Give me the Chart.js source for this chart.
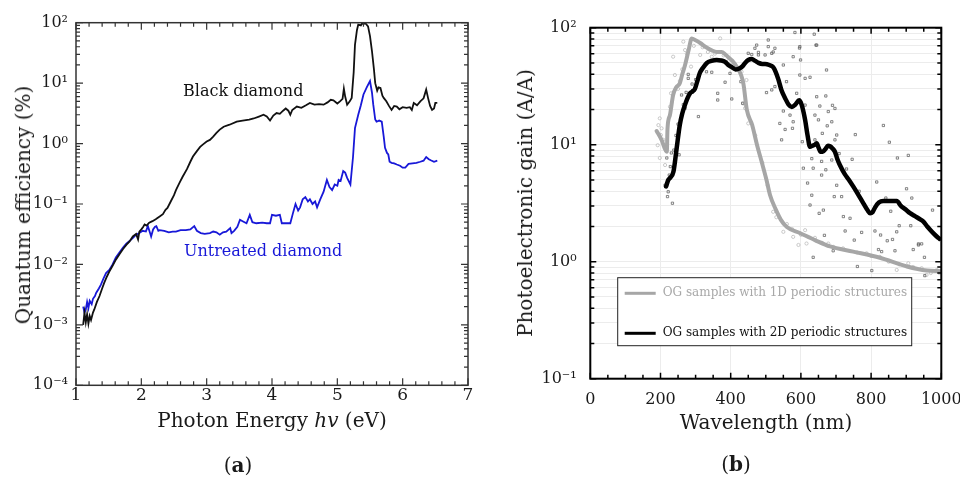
<!DOCTYPE html>
<html>
<head>
<meta charset="utf-8">
<script src="https://cdn.jsdelivr.net/npm/chart.js@4.4.0/dist/chart.umd.min.js"></script>
<style>
html,body{margin:0;padding:0;background:#fff;}
#fig{position:relative;width:960px;height:477px;overflow:hidden;font-family:"DejaVu Serif",serif;color:#1a1a1a;}
#fig canvas{position:absolute;top:0;}
.lbl{position:absolute;white-space:nowrap;font-size:20px;line-height:20px;}
.note{position:absolute;white-space:nowrap;font-size:16px;line-height:16px;}
.ctr{transform:translateX(-50%);}
.rot{transform:translate(-50%,-50%) rotate(-90deg);}
</style>
</head>
<body>
<div id="fig">
  <canvas id="qe" width="480" height="477" style="left:0"></canvas>
  <canvas id="gain" width="480" height="477" style="left:480px"></canvas>

  <div class="note" style="left:183px;top:83px;color:#111">Black diamond</div>
  <div class="note" style="left:184px;top:243px;color:#1818d8">Untreated diamond</div>

  <div class="lbl ctr" style="left:272px;top:410px">Photon Energy <i>hv</i> (eV)</div>
  <div class="lbl rot" style="left:23px;top:205px">Quantum efficiency (%)</div>
  <div class="lbl ctr" style="left:238px;top:455px">(<b>a</b>)</div>

  <div class="lbl ctr" style="left:766px;top:412px">Wavelength (nm)</div>
  <div class="lbl rot" style="left:525px;top:203px">Photoelectronic gain (A/A)</div>
  <div class="lbl ctr" style="left:736px;top:454px">(<b>b</b>)</div>
</div>

<script>
// ---- (a) quantum efficiency vs photon energy ----
const energyBlack = [
  1.11,1.13,1.15,1.17,1.19,1.21,1.23,1.26,1.28,1.32,
  1.36,1.40,1.43,1.47,1.51,1.56,1.61,1.67,1.72,1.77,
  1.82,1.87,1.92,1.95,1.97,2.00,2.03,2.05,2.08,2.12,
  2.17,2.22,2.28,2.33,2.37,2.40,2.45,2.50,2.53,2.58,
  2.63,2.70,2.75,2.79,2.85,2.90,2.94,3.00,3.05,3.10,
  3.15,3.20,3.26,3.35,3.46,3.55,3.65,3.72,3.80,3.87,
  3.92,3.97,4.02,4.07,4.12,4.17,4.21,4.25,4.28,4.31,
  4.38,4.45,4.52,4.58,4.65,4.72,4.79,4.85,4.90,4.94,
  5.00,5.04,5.08,5.10,5.12,5.15,5.19,5.22,5.25,5.27,
  5.30,5.32,5.36,5.38,5.40,5.43,5.47,5.50,5.53,5.56,
  5.58,5.61,5.63,5.66,5.69,5.71,5.75,5.79,5.83,5.87,
  5.91,5.95,6.00,6.06,6.11,6.14,6.17,6.22,6.27,6.32,
  6.36,6.39,6.42,6.45,6.48,6.50,6.53
];
const qeBlack = [
  0.0010,0.0016,0.0011,0.0015,0.00105,0.0014,0.0012,0.0016,0.0018,0.0024,
  0.0030,0.0040,0.0049,0.0062,0.0076,0.0095,0.012,0.015,0.018,0.021,
  0.024,0.029,0.032,0.026,0.035,0.038,0.042,0.046,0.044,0.049,
  0.052,0.056,0.062,0.068,0.080,0.086,0.11,0.14,0.17,0.22,
  0.28,0.38,0.50,0.61,0.75,0.88,0.96,1.08,1.15,1.3,
  1.5,1.7,1.9,2.05,2.3,2.4,2.5,2.6,2.8,3.0,
  2.8,2.4,2.9,3.2,3.1,3.5,3.8,3.5,3.0,3.6,
  4.1,3.9,4.3,4.7,4.4,4.5,4.4,4.8,5.3,5.2,
  4.6,5.0,5.5,8.1,6.0,4.4,5.0,5.7,15,43,
  75,93,90,98,95,98,87,60,34,17,
  10,7.5,8.5,8.3,6.2,5.7,5.0,4.2,3.6,4.2,
  4.1,3.7,4.0,3.9,4.0,3.6,4.7,4.3,5.0,5.6,
  7.8,5.6,4.2,3.6,3.8,4.7,4.7
];
const energyBlue = [
  1.11,1.13,1.15,1.17,1.19,1.21,1.24,1.26,1.29,1.31,
  1.35,1.38,1.42,1.46,1.51,1.56,1.61,1.67,1.72,1.77,
  1.83,1.88,1.92,1.97,2.02,2.07,2.10,2.13,2.15,2.18,
  2.21,2.23,2.26,2.28,2.35,2.42,2.48,2.53,2.60,2.68,
  2.75,2.81,2.85,2.91,2.97,3.05,3.10,3.15,3.20,3.25,
  3.30,3.36,3.38,3.42,3.47,3.51,3.55,3.61,3.66,3.70,
  3.76,3.85,3.92,3.97,4.00,4.06,4.12,4.15,4.22,4.28,
  4.32,4.36,4.40,4.43,4.47,4.51,4.55,4.58,4.62,4.66,
  4.69,4.74,4.79,4.84,4.88,4.92,4.96,5.00,5.02,5.05,
  5.09,5.12,5.15,5.20,5.24,5.27,5.32,5.36,5.40,5.45,
  5.50,5.53,5.55,5.58,5.60,5.64,5.68,5.71,5.73,5.76,
  5.78,5.80,5.83,5.87,5.91,5.96,6.00,6.04,6.09,6.15,
  6.21,6.27,6.32,6.36,6.40,6.43,6.48,6.53
];
const qeBlue = [
  0.0020,0.0016,0.0018,0.0024,0.0019,0.0025,0.0022,0.0027,0.0030,0.0034,
  0.0040,0.0046,0.0058,0.0072,0.0081,0.010,0.013,0.016,0.019,0.022,
  0.025,0.028,0.031,0.033,0.036,0.035,0.043,0.034,0.029,0.038,
  0.042,0.043,0.036,0.037,0.036,0.034,0.035,0.035,0.037,0.037,
  0.038,0.043,0.036,0.033,0.032,0.033,0.035,0.034,0.031,0.034,
  0.035,0.040,0.033,0.036,0.042,0.055,0.052,0.048,0.066,0.050,
  0.048,0.049,0.048,0.048,0.066,0.064,0.066,0.048,0.048,0.048,
  0.070,0.100,0.078,0.088,0.12,0.13,0.11,0.12,0.10,0.11,
  0.088,0.12,0.16,0.25,0.19,0.17,0.21,0.20,0.25,0.24,
  0.35,0.33,0.27,0.21,0.6,1.8,3.0,4.3,6.5,8.5,
  10.8,7.0,4.4,2.5,2.3,2.4,2.3,1.3,0.85,0.70,
  0.66,0.50,0.48,0.47,0.45,0.43,0.40,0.40,0.46,0.47,
  0.48,0.50,0.52,0.60,0.55,0.53,0.50,0.52
];

// ---- (b) photoelectronic gain vs wavelength ----
const wl1D = [
  189,203,218,220,227,236,245,255,262,270,
  280,289,300,313,330,346,360,374,385,393,
  405,417,436,446,461,475,489,502,512,529,
  543,560,597,640,683,749,825,902,959,999
];
const gain1D = [
  13.1,11,8.7,13.8,18,26.6,31,33.5,40,48,
  64,81,78,74,68,64,62,62,59,56,
  52,46.5,33.5,19.8,14.8,9.95,7.0,5.0,3.72,2.77,
  2.28,1.98,1.76,1.53,1.35,1.22,1.08,0.91,0.84,0.83
];
const wl2D = [
  216,222,227,237,246,255,262,270,277,284,
  291,298,305,312,320,332,345,360,372,384,
  393,403,414,426,434,441,450,460,470,479,
  490,498,510,521,528,536,545,555,565,574,
  584,595,602,612,619,626,633,640,645,650,
  656,662,670,677,683,690,697,704,711,725,
  737,749,762,778,790,797,804,811,822,835,
  850,862,873,885,898,911,925,940,949,960,
  970,980,991,995
];
const gain2D = [
  4.4,5.0,5.2,5.9,9.3,14.8,18.5,22,25,27.5,
  28.5,30,35,41,45,50,52,53,52.5,51,
  48,46,44,45,47,50,53,54,52,50,
  49,49,48,46,42,36,29,25,22,21,
  22,24,22,16.3,12,9.6,9.8,10,10.3,9.5,
  8.7,8.7,9.2,9.8,9.7,9.3,8.7,7.5,6.7,5.6,
  5.0,4.4,3.8,3.15,2.75,2.6,2.65,2.9,3.2,3.3,
  3.3,3.3,3.3,3.0,2.8,2.6,2.45,2.3,2.2,2.0,
  1.85,1.72,1.6,1.57
];
// individual measurements behind the averaged curves
const pts1DWl = [
  236,241,230,227,198,194,192,203,208,270,
  287,313,346,370,265,403,431,441,201,213,
  198,521,550,578,593,612,616,678,692,787,
  825,873,906,944,958,987,445,436,450,250,
  255,262,275,295,320,335,355,380,395,415,
  470,490,505,530,560,575,600,640,660,720,
  760,800,850,880,920,970,995
];
const pts1DGain = [
  56.5,39.4,27.5,21.1,16.8,14.7,9.9,13.8,11,64.4,
  46.5,58.5,56.5,81,76,48,42,20.5,12.1,6.7,
  7.7,2.67,1.80,1.63,1.39,1.86,1.43,1.43,1.34,1.18,
  1.10,0.85,0.97,0.88,0.77,0.85,35.7,22.5,15.2,30,
  35,44,60,70,68,62,60,58,52,44,
  12,7,4.5,2.4,2.1,1.9,1.7,1.6,1.45,1.3,
  1.2,1.12,1.0,0.95,0.9,0.8,0.8
];
const pts2DWl = [
  469,507,526,597,645,479,498,517,578,550,
  599,597,612,626,673,559,502,517,526,588,
  612,671,690,654,678,550,569,540,578,555,
  576,640,650,688,661,675,702,545,604,640,
  697,755,835,852,875,906,631,659,688,709,
  746,730,607,635,671,659,702,619,816,901,
  766,916,842,856,695,716,631,626,664,652,
  721,740,880,913,975,726,773,811,827,873,
  667,752,846,861,935,944,821,830,920,868,
  952,761,802,692,635,583,638,643,596,474,
  507,521,645,697,218,213,222,220,234,253,
  260,270,260,279,279,308,363,363,403,434,
  384,429,331,346,398,450,460,479,225,228,
  231,238,244,250,265,273,290,300,935,953
];
const pts2DGain = [
  66.7,68.9,66.7,68.9,71,58.5,58.5,60.4,56.5,48,
  53,39.4,36.9,37.7,43.5,34.6,27.9,29.4,31.4,27.5,
  21.8,26.1,21.7,21.4,19.2,19.4,17.9,15.2,15.7,13.5,
  13.8,17.9,16.3,15.7,12.5,14.5,12.1,11.0,10.6,11.0,
  11.0,12.2,14.6,10.5,7.7,8.1,7.6,7.2,7.4,8.4,
  7.5,6.2,6.3,6.3,6.1,5.5,4.5,4.7,4.8,4.2,
  4.0,3.5,3.5,2.7,3.6,3.6,3.7,3.05,2.76,2.59,
  2.43,2.35,2.03,2.03,2.76,1.83,1.78,1.83,1.69,1.80,
  1.68,1.53,1.51,1.55,1.42,1.42,1.27,1.22,1.27,1.24,
  1.09,0.91,0.84,1.24,1.09,91,88,71,67,71,
  78.5,62,25.7,20.4,7.7,4.5,3.96,3.6,3.16,8.2,
  17.9,20.5,26.6,36.9,39.9,17.4,27.5,24.1,24.6,22.6,
  34.2,34.6,42,41.6,40.7,60.4,59,61.5,5.5,6.5,
  8.5,9,12,15,22,28,33,36,1.39,0.76
];

const seriesLabels = ['OG samples with 1D periodic structures', 'OG samples with 2D periodic structures'];

// ---- helpers ----
const FONT = '"DejaVu Serif", serif';
const SUP = {'-':'\u207B','0':'\u2070','1':'\u00B9','2':'\u00B2','3':'\u00B3','4':'\u2074',
             '5':'\u2075','6':'\u2076','7':'\u2077','8':'\u2078','9':'\u2079'};
function decadeLabel(v) {
  const e = Math.round(Math.log10(v));
  if (Math.abs(v / Math.pow(10, e) - 1) > 1e-6) return '';
  return '10' + String(e).split('').map(c => SUP[c]).join('');
}
function logTickValues(eMin, eMax) {
  const out = [];
  for (let e = eMin; e < eMax; e++) for (let m = 1; m < 10; m++) out.push(m * Math.pow(10, e));
  out.push(Math.pow(10, eMax));
  return out;
}
const pairs = (xs, ys) => xs.map((x, i) => ({x, y: ys[i]}));

// closed frame with inward ticks on all four sides
const axisFrame = {
  id: 'axisFrame',
  afterDatasetsDraw(chart, args, o) {
    const {ctx, chartArea: a, scales: {x, y}} = chart;
    ctx.save();
    ctx.strokeStyle = o.color;
    ctx.lineWidth = o.tickWidth;
    ctx.beginPath();
    const n = Math.round((x.max - x.min) / o.xMinor);
    for (let i = 0; i <= n; i++) {
      const px = x.getPixelForValue(x.min + i * o.xMinor);
      const L = (i % o.xMajorEvery === 0) ? o.majorLen : o.minorLen;
      ctx.moveTo(px, a.bottom); ctx.lineTo(px, a.bottom - L);
      ctx.moveTo(px, a.top); ctx.lineTo(px, a.top + L);
    }
    for (const v of logTickValues(o.eMin, o.eMax)) {
      const py = y.getPixelForValue(v);
      const L = decadeLabel(v) !== '' ? o.majorLen : o.minorLen;
      ctx.moveTo(a.left, py); ctx.lineTo(a.left + L, py);
      ctx.moveTo(a.right, py); ctx.lineTo(a.right - L, py);
    }
    ctx.stroke();
    ctx.lineWidth = o.width;
    ctx.strokeRect(a.left, a.top, a.right - a.left, a.bottom - a.top);
    ctx.restore();
  }
};

// boxed legend placed inside the plot area
const boxLegend = {
  id: 'boxLegend',
  afterDraw(chart, args, o) {
    const {ctx, chartArea: a} = chart;
    const x0 = a.left + o.left, y0 = a.top + o.top;
    ctx.save();
    ctx.fillStyle = '#fff';
    ctx.fillRect(x0, y0, o.width, o.height);
    ctx.strokeStyle = '#222';
    ctx.lineWidth = 1;
    ctx.strokeRect(x0, y0, o.width, o.height);
    const items = chart.data.datasets.filter(d => d.legendRank !== undefined)
      .sort((p, q) => p.legendRank - q.legendRank);
    items.forEach((d, i) => {
      const yy = y0 + o.firstRow + i * o.rowGap;
      ctx.strokeStyle = d.borderColor;
      ctx.lineWidth = 3;
      ctx.beginPath();
      ctx.moveTo(x0 + o.swatchFrom, yy);
      ctx.lineTo(x0 + o.swatchTo, yy);
      ctx.stroke();
      ctx.fillStyle = d.legendText;
      ctx.font = o.fontSize + 'px ' + FONT;
      ctx.textBaseline = 'middle';
      ctx.fillText(d.label, x0 + o.textX, yy);
    });
    ctx.restore();
  }
};

const tickFont = size => ({family: FONT, size});

// ---- chart (a) ----
new Chart(document.getElementById('qe'), {
  type: 'line',
  data: {
    datasets: [
      {label: 'Black diamond', data: pairs(energyBlack, qeBlack),
       borderColor: '#111', borderWidth: 1.8, pointRadius: 0, tension: 0},
      {label: 'Untreated diamond', data: pairs(energyBlue, qeBlue),
       borderColor: '#1818d8', borderWidth: 1.8, pointRadius: 0, tension: 0}
    ]
  },
  options: {
    responsive: false, animation: false, devicePixelRatio: 1,
    layout: {padding: {top: 22.7, right: 12, left: 0, bottom: 0}},
    plugins: {
      legend: {display: false}, tooltip: {enabled: false},
      axisFrame: {color: '#333', width: 1.5, tickWidth: 1.2, xMinor: 0.2, xMajorEvery: 5,
                  majorLen: 7, minorLen: 4, eMin: -4, eMax: 2}
    },
    scales: {
      x: {type: 'linear', min: 1, max: 7,
          ticks: {stepSize: 1, color: '#1a1a1a', font: tickFont(17), padding: 0, maxRotation: 0,
                  callback: v => String(v)},
          grid: {display: false, drawTicks: false}, border: {display: false},
          afterFit(s) { s.height = 91.7; s.paddingLeft = 0; s.paddingRight = 0; }},
      y: {type: 'logarithmic', min: 1e-4, max: 1e2,
          afterBuildTicks(s) { s.ticks = logTickValues(-4, 2).filter(v => decadeLabel(v)).map(v => ({value: v})); },
          ticks: {callback: v => decadeLabel(v), color: '#1a1a1a', font: tickFont(16), padding: 8, autoSkip: false},
          grid: {display: false, drawTicks: false}, border: {display: false},
          afterFit(s) { s.width = 76; s.paddingTop = 0; s.paddingBottom = 0; }}
    }
  },
  plugins: [axisFrame]
});

// ---- chart (b) ----
new Chart(document.getElementById('gain'), {
  type: 'scatter',
  data: {
    datasets: [
      {label: seriesLabels[1], data: pairs(wl2D, gain2D), showLine: true, order: 0,
       borderColor: '#000', borderWidth: 4.5, pointRadius: 0, cubicInterpolationMode: 'monotone',
       borderJoinStyle: 'round', borderCapStyle: 'round', legendRank: 1, legendText: '#111'},
      {label: seriesLabels[0], data: pairs(wl1D, gain1D), showLine: true, order: 1,
       borderColor: '#a6a6a6', borderWidth: 4, pointRadius: 0, cubicInterpolationMode: 'monotone',
       borderJoinStyle: 'round', borderCapStyle: 'round', legendRank: 0, legendText: '#a8a8a8'},
      {label: '2D points', data: pairs(pts2DWl, pts2DGain), order: 2,
       pointStyle: 'rect', pointRadius: 1.6, borderWidth: 0.8,
       borderColor: '#666', backgroundColor: 'rgba(0,0,0,0)'},
      {label: '1D points', data: pairs(pts1DWl, pts1DGain), order: 3,
       pointStyle: 'circle', pointRadius: 1.6, borderWidth: 0.8,
       borderColor: '#bdbdbd', backgroundColor: 'rgba(0,0,0,0)'}
    ]
  },
  options: {
    responsive: false, animation: false, devicePixelRatio: 1,
    layout: {padding: {top: 27.7, right: 18.7, left: 0, bottom: 0}},
    plugins: {
      legend: {display: false}, tooltip: {enabled: false},
      axisFrame: {color: '#000', width: 2, tickWidth: 1.5, xMinor: 50, xMajorEvery: 4,
                  majorLen: 6, minorLen: 4, eMin: -1, eMax: 2},
      boxLegend: {left: 27.4, top: 250, width: 294, height: 68, firstRow: 15.6, rowGap: 40,
                  swatchFrom: 7, swatchTo: 38, textX: 45, fontSize: 12}
    },
    scales: {
      x: {type: 'linear', min: 0, max: 1000,
          ticks: {stepSize: 200, color: '#1a1a1a', font: tickFont(16), padding: 12, maxRotation: 0,
                  callback: v => String(v)},
          grid: {color: '#ececec', lineWidth: 1, drawTicks: false}, border: {display: false},
          afterFit(s) { s.height = 98.3; s.paddingLeft = 0; s.paddingRight = 0; }},
      y: {type: 'logarithmic', min: 0.1, max: 100,
          afterBuildTicks(s) { s.ticks = logTickValues(-1, 2).map(v => ({value: v})); },
          ticks: {callback: v => decadeLabel(v), color: '#1a1a1a', font: tickFont(16), padding: 13.6, autoSkip: false},
          grid: {color: '#ececec', lineWidth: 1, drawTicks: false}, border: {display: false},
          afterFit(s) { s.width = 110.3; s.paddingTop = 0; s.paddingBottom = 0; }}
    }
  },
  plugins: [axisFrame, boxLegend]
});
</script>
</body>
</html>
